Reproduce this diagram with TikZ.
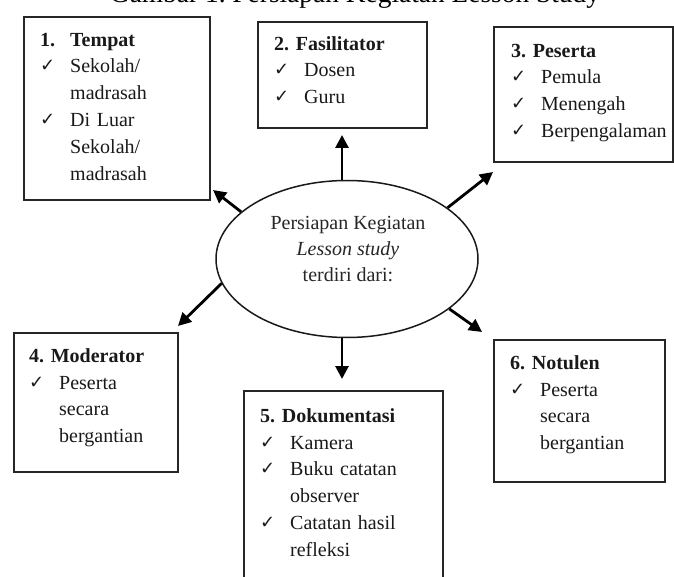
\documentclass[tikz,border=0pt]{standalone}
\usepackage{fontspec}
\setmainfont{Liberation Serif}
\newfontfamily\ckfont{DejaVu Sans}
\usetikzlibrary{arrows.meta,shapes.geometric}
\frenchspacing
\newcommand{\ckm}{\makebox[30pt][l]{\ckfont\fontsize{18}{18}\selectfont\raisebox{1pt}{✓}}}
\newcommand{\indt}{\hspace*{30pt}}
\newcommand{\strt}{\rule{0pt}{15pt}}
\begin{document}
\begin{tikzpicture}[x=1pt,y=-1pt,
  boxsty/.style={draw=black!85, line width=1.9pt, anchor=north west, inner sep=0pt},
  boxtext/.style={anchor=north west, inner sep=0pt, text width=190pt, align=left,
    font=\fontsize{20}{26.8}\selectfont, text=black!90},
  arr/.style={line width=2.8pt, -{Triangle[length=13pt,width=13pt]}}]
\useasboundingbox (0,0) rectangle (674,577);
% title (cut at top, as in the reference)
\node[anchor=base, inner sep=0pt, font=\fontsize{27.4}{30}\selectfont] (title) at (355,3) {Gambar 1. Persiapan Kegiatan Lesson Study};
% boxes
\node[boxsty, minimum width=186pt, minimum height=183pt] (b1) at (23,16) {};
\node[boxsty, minimum width=169pt, minimum height=106pt] (b2) at (257,21) {};
\node[boxsty, minimum width=179pt, minimum height=135pt] (b3) at (493,26) {};
\node[boxsty, minimum width=164pt, minimum height=139pt] (b4) at (13,332) {};
\node[boxsty, minimum width=199pt, minimum height=210pt] (b5) at (243,390) {};
\node[boxsty, minimum width=171pt, minimum height=142pt] (b6) at (493,339) {};
% box texts
\node[boxtext] (t1x) at (40,31) {\strt\textbf{\makebox[30pt][l]{1.}Tempat}\\
  \ckm Sekolah/\\ \indt madrasah\\ \ckm Di Luar\\ \indt Sekolah/\\ \indt madrasah};
\node[boxtext] (t2x) at (274,35) {\strt\textbf{2. Fasilitator}\\
  \ckm Dosen\\ \ckm Guru};
\node[boxtext] (t3x) at (511,42) {\strt\textbf{3. Peserta}\\
  \ckm Pemula\\ \ckm Menengah\\ \ckm Berpengalaman};
\node[boxtext] (t4x) at (29,347) {\strt\textbf{4. Moderator}\\
  \ckm Peserta\\ \indt secara\\ \indt bergantian};
\node[boxtext] (t5x) at (260,407) {\strt\textbf{5. Dokumentasi}\\
  \ckm Kamera\\ \ckm Buku catatan\\ \indt observer\\ \ckm Catatan hasil\\ \indt refleksi};
\node[boxtext] (t6x) at (510,354) {\strt\textbf{6. Notulen}\\
  \ckm Peserta\\ \indt secara\\ \indt bergantian};
% centre ellipse
\node[ellipse, draw=black!90, line width=1.5pt, minimum width=262pt, minimum height=157pt, inner sep=0pt] (c) at (347,259) {};
\node[align=center, inner sep=0pt, font=\fontsize{20}{26}\selectfont, text=black!85] (ctext) at (348,249)
  {Persiapan Kegiatan\\ \textit{Lesson study}\\ terdiri dari:};
% arrow tips
\coordinate (a1) at (213,190);
\coordinate (a2) at (342,135);
\coordinate (a3) at (493,172);
\coordinate (a4) at (178,326);
\coordinate (a5) at (342,379);
\coordinate (a6) at (482,332);
\draw[arr] (c.156) -- (a1);
\draw[arr] (a2 |- c.north) -- (a2);
\draw[arr] (c.27) -- (a3);
\draw[arr] (c.191) -- (a4);
\draw[arr] (a5 |- c.south) -- (a5);
\draw[arr] (c.334) -- (a6);
\end{tikzpicture}
\end{document}
